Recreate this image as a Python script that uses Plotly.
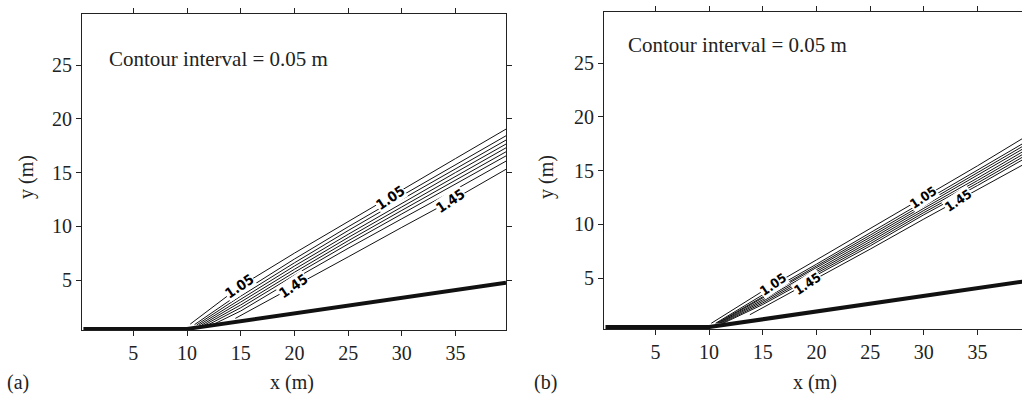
import plotly.graph_objects as go

# ---------------- data ----------------
LEVELS = ["1.05", "1.10", "1.15", "1.20", "1.25", "1.30", "1.35", "1.40", "1.45"]
X_COLS = [15, 20, 25, 30, 35, 39.7]

# panel (a)
A_START_X = [10.3, 10.7, 10.9, 11.1, 11.35, 11.6, 11.9, 12.4, 14.5]
A_START_Y = [0.9, 0.85, 0.82, 0.8, 0.8, 0.8, 0.8, 0.85, 1.43]
A_Y = [
    [4.45, 7.50, 10.45, 13.40, 16.30, 19.04],
    [3.80, 6.95, 9.95, 12.85, 15.75, 18.42],
    [3.50, 6.60, 9.60, 12.50, 15.35, 18.02],
    [3.22, 6.30, 9.25, 12.15, 15.00, 17.65],
    [2.95, 6.00, 8.95, 11.80, 14.65, 17.30],
    [2.68, 5.72, 8.65, 11.48, 14.30, 16.93],
    [2.42, 5.45, 8.35, 11.15, 13.90, 16.55],
    [2.12, 5.10, 7.95, 10.70, 13.42, 16.06],
    [1.70, 4.45, 7.15, 9.90, 12.60, 15.30],
]
A_LABEL_TEXT = ["1.05", "1.05", "1.45", "1.45"]
A_LABEL_X = [14.9, 28.9, 19.9, 34.5]
A_LABEL_Y = [4.4, 12.6, 4.4, 12.35]

# panel (b)
B_START_X = [10.2, 10.6, 10.7, 10.8, 10.9, 11.0, 11.15, 11.3, 13.8]
B_START_Y = [0.8, 0.8, 0.8, 0.8, 0.8, 0.8, 0.8, 0.8, 1.6]
B_Y = [
    [3.80, 6.70, 9.60, 12.50, 15.45, 18.30],
    [3.45, 6.30, 9.20, 12.10, 15.00, 17.80],
    [3.30, 6.13, 9.00, 11.90, 14.77, 17.55],
    [3.15, 5.96, 8.80, 11.70, 14.54, 17.30],
    [3.00, 5.79, 8.60, 11.50, 14.31, 17.05],
    [2.85, 5.62, 8.40, 11.30, 14.08, 16.80],
    [2.70, 5.45, 8.20, 11.10, 13.85, 16.55],
    [2.55, 5.28, 8.00, 10.90, 13.62, 16.30],
    [2.25, 4.95, 7.70, 10.50, 13.20, 15.80],
]
B_LABEL_TEXT = ["1.05", "1.05", "1.45", "1.45"]
B_LABEL_X = [15.96, 29.95, 19.2, 33.2]
B_LABEL_Y = [4.37, 12.47, 4.5, 12.2]

# breakwater / wall
WALL_X = [0.35, 10.0, 39.7]
WALL_Y = [0.45, 0.45, 4.75]

X_TICKS = [5, 10, 15, 20, 25, 30, 35]
Y_TICKS = [5, 10, 15, 20, 25]

# ---------------- figure ----------------
W, H = 1022, 395
fig = go.Figure()

def add_panel(sx, sy, ys, xa, ya):
    for i, lev in enumerate(LEVELS):
        fig.add_trace(go.Scatter(
            x=[sx[i]] + X_COLS, y=[sy[i]] + ys[i], mode="lines",
            line=dict(color="#111", width=1), xaxis=xa, yaxis=ya,
            showlegend=False, hoverinfo="skip", name=lev))
    fig.add_trace(go.Scatter(
        x=WALL_X, y=WALL_Y, mode="lines", line=dict(color="#111", width=4),
        xaxis=xa, yaxis=ya, showlegend=False, hoverinfo="skip"))

add_panel(A_START_X, A_START_Y, A_Y, "x", "y")
add_panel(B_START_X, B_START_Y, B_Y, "x2", "y2")

serif = "Liberation Serif, Times New Roman, serif"
tickfont = dict(family=serif, size=20, color="#222")
axcommon = dict(showgrid=False, zeroline=False, showline=True, linecolor="#222",
                linewidth=1, ticks="outside", ticklen=5, tickwidth=1,
                tickcolor="#222", tickfont=tickfont)

fig.update_layout(
    width=W, height=H, margin=dict(l=0, r=0, t=0, b=0),
    paper_bgcolor="white", plot_bgcolor="white",
    xaxis=dict(domain=[82 / W, 506 / W], range=[0.22, 39.7], tickvals=X_TICKS,
               mirror="ticks", anchor="y", **axcommon),
    yaxis=dict(domain=[1 - 330 / H, 1 - 14 / H], range=[0.35, 29.75], tickvals=Y_TICKS,
               mirror="ticks", anchor="x", **axcommon),
    xaxis2=dict(domain=[604 / W, 1.0], range=[0.21, 39.14], tickvals=X_TICKS,
                mirror="ticks", anchor="y2", **axcommon),
    yaxis2=dict(domain=[1 - 329 / H, 1 - 12.3 / H], range=[0.27, 29.73], tickvals=Y_TICKS,
                mirror=False, anchor="x2", **axcommon),
)

ann = []
def txt(x, y, s, size=20, xanchor="center", angle=0):
    ann.append(dict(x=x / W, y=1 - y / H, xref="paper", yref="paper", text=s,
                    showarrow=False, xanchor=xanchor, yanchor="middle",
                    textangle=angle, font=dict(family=serif, size=size, color="#222")))

txt(27, 177, "y (m)", angle=-90)
txt(292, 382, "x (m)")
txt(18, 382, "(a)")
txt(547, 177, "y (m)", angle=-90)
txt(815, 382, "x (m)")
txt(545, 382, "(b)")
txt(107, 59, "Contour interval = 0.05 m", size=21, xanchor="left")
txt(626, 45, "Contour interval = 0.05 m", size=21, xanchor="left")

labfont = "DejaVu Sans Condensed, Liberation Sans, Arial, sans-serif"
for texts, xs, ys, xr, yr, sz in [(A_LABEL_TEXT, A_LABEL_X, A_LABEL_Y, "x", "y", 14),
                                  (B_LABEL_TEXT, B_LABEL_X, B_LABEL_Y, "x2", "y2", 13)]:
    for t, x, y in zip(texts, xs, ys):
        ann.append(dict(x=x, y=y, xref=xr, yref=yr, text="<b>" + t + "</b>", showarrow=False,
                        textangle=-34, bgcolor="white", borderpad=0,
                        font=dict(family=labfont, size=sz, color="#000")))

fig.update_layout(annotations=ann)

fig.write_html("out.html", config={"displayModeBar": False},
               post_script="document.body.style.margin='0';document.body.style.overflow='hidden';")
